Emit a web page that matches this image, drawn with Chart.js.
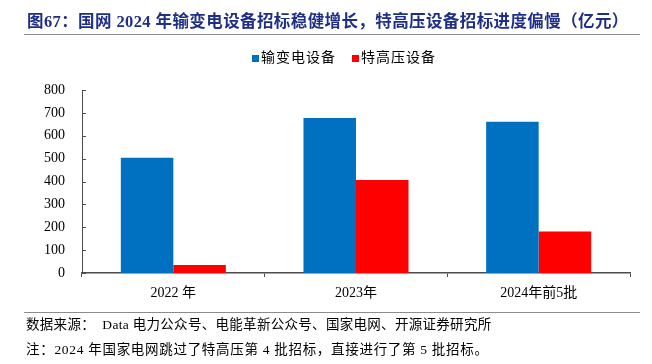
<!DOCTYPE html>
<html>
<head>
<meta charset="utf-8">
<script src="https://cdn.jsdelivr.net/npm/chart.js@4.4.0/dist/chart.umd.min.js"></script>
<style>
  body { margin: 0; background: #fff; }
  #wrap { position: relative; width: 652px; height: 364px; overflow: hidden; font-family: "Liberation Serif", "Times New Roman", "Noto Sans CJK SC", serif; }
  #chart { position: absolute; left: 0; top: 0; }
  .title { position: absolute; left: 27px; top: 12px; font-size: 16.5px; font-weight: bold; color: #1F2E86; line-height: 20px; white-space: nowrap; letter-spacing: 0.4px; }
  .rule { position: absolute; left: 24px; width: 616px; height: 0; border-top: 1.5px solid #8c8c8c; }
  .legend { position: absolute; top: 49px; left: 252px; font-size: 14px; line-height: 18px; display: flex; white-space: nowrap; letter-spacing: 1px; }
  .legend span.sq { display: inline-block; width: 7px; height: 7px; margin-right: 2px; position: relative; top: 0px; }
  .legend .item { margin-right: 16px; display: flex; align-items: center; }
  .src { position: absolute; left: 26px; font-size: 13.5px; line-height: 18px; white-space: nowrap; color: #000; }
</style>
</head>
<body>
<div id="wrap">
  <canvas id="chart" width="652" height="364"></canvas>
  <div class="title">图67：国网 2024 年输变电设备招标稳健增长，特高压设备招标进度偏慢（亿元）</div>
  <div class="rule" style="top:34px"></div>
  <div class="legend" id="legend"></div>
  <div class="rule" style="top:312px"></div>
  <div class="src" style="top:316px; letter-spacing:0.3px">数据来源：&nbsp; Data 电力公众号、电能革新公众号、国家电网、开源证券研究所</div>
  <div class="src" style="top:341px; letter-spacing:0.7px">注：2024 年国家电网跳过了特高压第 4 批招标，直接进行了第 5 批招标。</div>
</div>
<script>
const categories = ['2022 年', '2023年', '2024年前5批'];
const transmissionValues = [504, 678, 661];   // 输变电设备
const uhvValues = [35, 407, 181];             // 特高压设备
const seriesNames = ['输变电设备', '特高压设备'];
const seriesColors = ['#0070C0', '#FF0000'];

// legend in html
const legend = document.getElementById('legend');
seriesNames.forEach((name, i) => {
  const item = document.createElement('div');
  item.className = 'item';
  item.innerHTML = '<span class="sq" style="background:' + seriesColors[i] + '"></span>' + name;
  legend.appendChild(item);
});

const axisColor = '#4d4d4d';

// short tick marks pointing into the plot on the y axis
const innerTicks = {
  id: 'innerTicks',
  afterDraw(chart) {
    const y = chart.scales.y;
    const ctx = chart.ctx;
    ctx.save();
    ctx.strokeStyle = axisColor;
    ctx.lineWidth = 1;
    y.ticks.forEach(t => {
      const py = Math.round(y.getPixelForValue(t.value)) + 0.5;
      ctx.beginPath();
      ctx.moveTo(y.right, py);
      ctx.lineTo(y.right + 4, py);
      ctx.stroke();
    });
    ctx.restore();
  }
};

Chart.defaults.font.family = '"Liberation Serif", "Times New Roman", "Noto Sans CJK SC", serif';
Chart.defaults.color = '#000';

const ctx = document.getElementById('chart').getContext('2d');
new Chart(ctx, {
  type: 'bar',
  data: {
    labels: categories,
    datasets: [
      {
        label: seriesNames[0],
        data: transmissionValues,
        backgroundColor: seriesColors[0],
        barPercentage: 1,
        categoryPercentage: 0.575
      },
      {
        label: seriesNames[1],
        data: uhvValues,
        backgroundColor: seriesColors[1],
        barPercentage: 1,
        categoryPercentage: 0.575
      }
    ]
  },
  options: {
    responsive: false,
    animation: false,
    devicePixelRatio: 1,
    layout: { padding: { left: 0, top: 90, right: 22, bottom: 51 } },
    plugins: {
      legend: { display: false },
      tooltip: { enabled: false }
    },
    scales: {
      x: {
        offset: true,
        grid: { offset: true, drawOnChartArea: false, drawTicks: true, tickLength: 4, color: axisColor },
        border: { display: true, color: axisColor, width: 1.5 },
        ticks: { font: { size: 14 }, padding: 8, maxRotation: 0 },
        afterFit: scale => { scale.height = 40; }
      },
      y: {
        min: 0,
        max: 800,
        grid: { display: false, drawTicks: false },
        border: { display: true, color: axisColor, width: 1 },
        ticks: { stepSize: 100, font: { size: 14 }, padding: 17 },
        afterFit: scale => { scale.width = 82; }
      }
    }
  },
  plugins: [innerTicks]
});
</script>
</body>
</html>
